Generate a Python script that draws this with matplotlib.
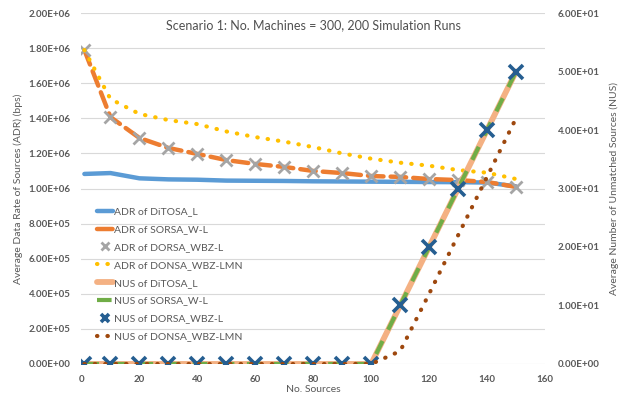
import matplotlib
matplotlib.use("Agg")
import matplotlib.pyplot as plt
from matplotlib.ticker import FormatStrFormatter

plt.rcParams['font.family'] = ['Lato', 'DejaVu Sans']

x = [1, 10, 20, 30, 40, 50, 60, 70, 80, 90, 100, 110, 120, 130, 140, 150]

adr_ditosa = [1.083e6, 1.088e6, 1.058e6, 1.052e6, 1.050e6, 1.045e6, 1.044e6, 1.043e6,
              1.041e6, 1.040e6, 1.039e6, 1.038e6, 1.037e6, 1.036e6, 1.034e6, 1.012e6]
adr_sorsa = [1.789e6, 1.407e6, 1.288e6, 1.231e6, 1.197e6, 1.162e6, 1.140e6, 1.123e6,
             1.100e6, 1.088e6, 1.071e6, 1.066e6, 1.054e6, 1.048e6, 1.037e6, 1.009e6]
adr_dorsa = [1.789e6, 1.407e6, 1.288e6, 1.231e6, 1.197e6, 1.162e6, 1.140e6, 1.123e6,
             1.100e6, 1.088e6, 1.071e6, 1.066e6, 1.054e6, 1.048e6, 1.037e6, 1.009e6]
adr_donsa = [1.789e6, 1.510e6, 1.425e6, 1.390e6, 1.367e6, 1.325e6, 1.293e6, 1.267e6,
             1.236e6, 1.200e6, 1.170e6, 1.147e6, 1.130e6, 1.105e6, 1.090e6, 1.054e6]

nus_ditosa = [0, 0, 0, 0, 0, 0, 0, 0, 0, 0, 0, 10, 20, 30, 40, 50]
nus_sorsa = [0, 0, 0, 0, 0, 0, 0, 0, 0, 0, 0, 10, 20, 30, 40, 50]
nus_dorsa = [0, 0, 0, 0, 0, 0, 0, 0, 0, 0, 0, 10, 20, 30, 40, 50]
nus_donsa = [0, 0, 0, 0, 0, 0, 0, 0, 0, 0, 0, 2.2, 12, 22, 32, 42]

title = "Scenario 1: No. Machines = 300, 200 Simulation Runs"
xlabel = "No. Sources"
ylabel_left = "Average Data Rate of Sources (ADR) (bps)"
ylabel_right = "Average Number of Unmatched Sources (NUS)"

TXT = '#595959'

fig = plt.figure(figsize=(6.24, 4.03), dpi=100)
ax = fig.add_axes([0.1306, 0.0968, 0.7428, 0.8709])
ax2 = ax.twinx()

for a in (ax, ax2):
    for s in a.spines.values():
        s.set_visible(False)
    a.tick_params(length=0, colors=TXT, labelsize=7)

ax.set_xlim(0, 160)
ax.set_xticks(range(0, 161, 20))
ax.set_ylim(0, 2.0e6)
ax.set_yticks([i * 2e5 for i in range(11)])
ax.yaxis.set_major_formatter(FormatStrFormatter('%.2E'))
ax.grid(axis='y', color='#D9D9D9', lw=0.8)
ax.set_axisbelow(True)

ax2.set_ylim(0, 60)
ax2.set_yticks(range(0, 61, 10))
ax2.yaxis.set_major_formatter(FormatStrFormatter('%.2E'))

for lab in ax.get_xticklabels() + ax.get_yticklabels() + ax2.get_yticklabels():
    lab.set_fontweight('bold')
    lab.set_color(TXT)
ax.tick_params(axis='x', pad=8)
ax.tick_params(axis='y', pad=8)
ax2.tick_params(axis='y', pad=9)

h1, = ax.plot(x, adr_ditosa, color='#5B9BD5', lw=3.2, solid_capstyle='round',
              label='ADR of DiTOSA_L')
h2, = ax.plot(x, adr_sorsa, color='#ED7D31', lw=3.2, linestyle=(0, (3.5, 1.6)),
              dash_capstyle='round', label='ADR of SORSA_W-L')
h3, = ax.plot(x, adr_dorsa, linestyle='none', marker='x', ms=9, mew=2,
              color='#A5A5A5', label='ADR of DORSA_WBZ-L')
h4, = ax.plot(x, adr_donsa, color='#FFC000', lw=3.0, linestyle=(0, (0.1, 2.4)),
              dash_capstyle='round', label='ADR of DONSA_WBZ-LMN')

h5, = ax2.plot(x, nus_ditosa, color='#F4B183', lw=4.2, solid_capstyle='round',
               label='NUS of DiTOSA_L')
h6, = ax2.plot(x, nus_sorsa, color='#70AD47', lw=3.0, linestyle=(0, (3.5, 3.0)),
               label='NUS of SORSA_W-L')
h7, = ax2.plot(x, nus_dorsa, linestyle='none', marker='x', ms=10, mew=2.6,
               color='#255E91', label='NUS of DORSA_WBZ-L')
h8, = ax2.plot(x, nus_donsa, color='#9E480E', lw=3.0, linestyle=(0, (0.1, 2.4)),
               dash_capstyle='round', label='NUS of DONSA_WBZ-LMN')

ax.set_xlabel(xlabel, color=TXT, fontsize=7.5, labelpad=1)
ax.set_ylabel(ylabel_left, color=TXT, fontsize=7.5, labelpad=4)
ax2.set_ylabel(ylabel_right, color=TXT, fontsize=7.5, rotation=90, labelpad=7)

ax.text(0.5, 0.966, title, transform=ax.transAxes, ha='center', va='center',
        color='#505050', fontsize=9)

handles = [h1, h2, h3, h4, h5, h6, h7, h8]
leg = ax2.legend(handles=handles, labels=[h.get_label() for h in handles],
                 loc='upper left', bbox_to_anchor=(0.022, 0.462), frameon=False,
                 fontsize=7.5, handlelength=1.5, handletextpad=0.15,
                 labelspacing=0.82, borderpad=0, markerscale=0.6)
for t in leg.get_texts():
    t.set_color(TXT)

fig.savefig('out.png', dpi=100)
